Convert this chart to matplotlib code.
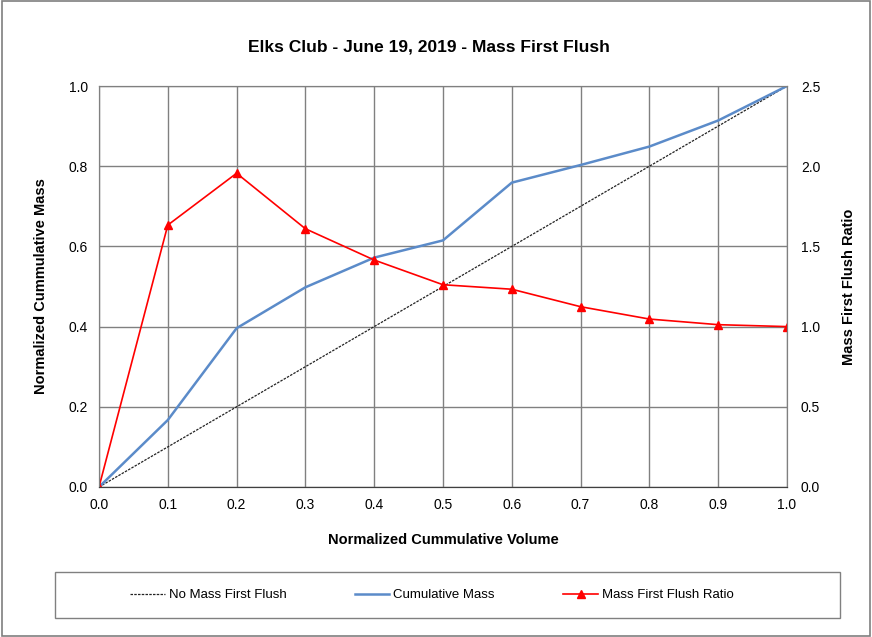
import matplotlib
matplotlib.use("Agg")
import matplotlib.pyplot as plt
from matplotlib.patches import Rectangle

plt.rcParams['font.family'] = ['Liberation Sans', 'DejaVu Sans']

volume = [0.0, 0.1, 0.2, 0.3, 0.4, 0.5, 0.6, 0.7, 0.8, 0.9, 1.0]
no_flush = [0.0, 0.1, 0.2, 0.3, 0.4, 0.5, 0.6, 0.7, 0.8, 0.9, 1.0]
cum_mass = [0.0, 0.167, 0.396, 0.498, 0.572, 0.615, 0.759, 0.803, 0.849, 0.914, 1.0]
ratio = [0.0, 1.633, 1.956, 1.61, 1.415, 1.261, 1.233, 1.124, 1.047, 1.012, 1.0]

fig = plt.figure(figsize=(8.72, 6.37), dpi=100)
ax = fig.add_axes([99/872, 1-487/637, (787-99)/872, (487-86)/637])
ax2 = ax.twinx()

l1, = ax.plot(volume, no_flush, color='#222222', lw=0.9, ls=(0, (2, 1)), label='No Mass First Flush')
l2, = ax.plot(volume, cum_mass, color='#5B8BC9', lw=1.8, label='Cumulative Mass')
l3, = ax2.plot(volume, ratio, color='#FF0000', lw=1.2, marker='^', ms=6, label='Mass First Flush Ratio')

ax.set_xlim(0, 1)
ax.set_ylim(0, 1)
ax2.set_ylim(0, 2.5)
ticks = [0.0, 0.1, 0.2, 0.3, 0.4, 0.5, 0.6, 0.7, 0.8, 0.9, 1.0]
ax.set_xticks(ticks)
ax.set_xticklabels([f'{t:.1f}' for t in ticks])
yt = [0.0, 0.2, 0.4, 0.6, 0.8, 1.0]
ax.set_yticks(yt)
ax.set_yticklabels([f'{t:.1f}' for t in yt])
y2t = [0.0, 0.5, 1.0, 1.5, 2.0, 2.5]
ax2.set_yticks(y2t)
ax2.set_yticklabels([f'{t:.1f}' for t in y2t])

ax.grid(True, color='#808080', lw=1.0)
ax.set_axisbelow(True)
for a in (ax, ax2):
    for s in a.spines.values():
        s.set_color('#808080')
    a.tick_params(labelsize=10, length=0, pad=10)
ax.spines['bottom'].set_color('#404040')
ax2.spines['bottom'].set_color('#404040')
ax.tick_params(axis='x', pad=8)
ax.tick_params(axis='y', pad=8)

ax.set_xlabel('Normalized Cummulative Volume', fontsize=10.5, fontweight='bold', labelpad=15)
ax.set_ylabel('Normalized Cummulative Mass', fontsize=10.5, fontweight='bold', labelpad=15)
ax2.set_ylabel('Mass First Flush Ratio', fontsize=10.5, fontweight='bold', labelpad=16)

fig.text(429/872, 1-47/637, 'Elks Club - June 19, 2019 - Mass First Flush', ha='center', va='center',
         fontsize=12.5, fontweight='bold')

fig.patches.append(Rectangle((55/872, 1-618/637), (840-55)/872, (618-572)/637, transform=fig.transFigure,
                             fill=False, edgecolor='#808080', lw=1.0))
leg = fig.legend(handles=[l1, l2, l3], loc='center', bbox_to_anchor=(432/872, 1-595/637),
                 ncol=3, frameon=False, fontsize=9.5, handlelength=2.6, handletextpad=0.3,
                 columnspacing=5.2)

fig.patches.append(Rectangle((0.002, 0.002), 0.996, 0.996, transform=fig.transFigure,
                             fill=False, edgecolor='#7F7F7F', lw=1.2))

fig.savefig('out.png', dpi=100)
